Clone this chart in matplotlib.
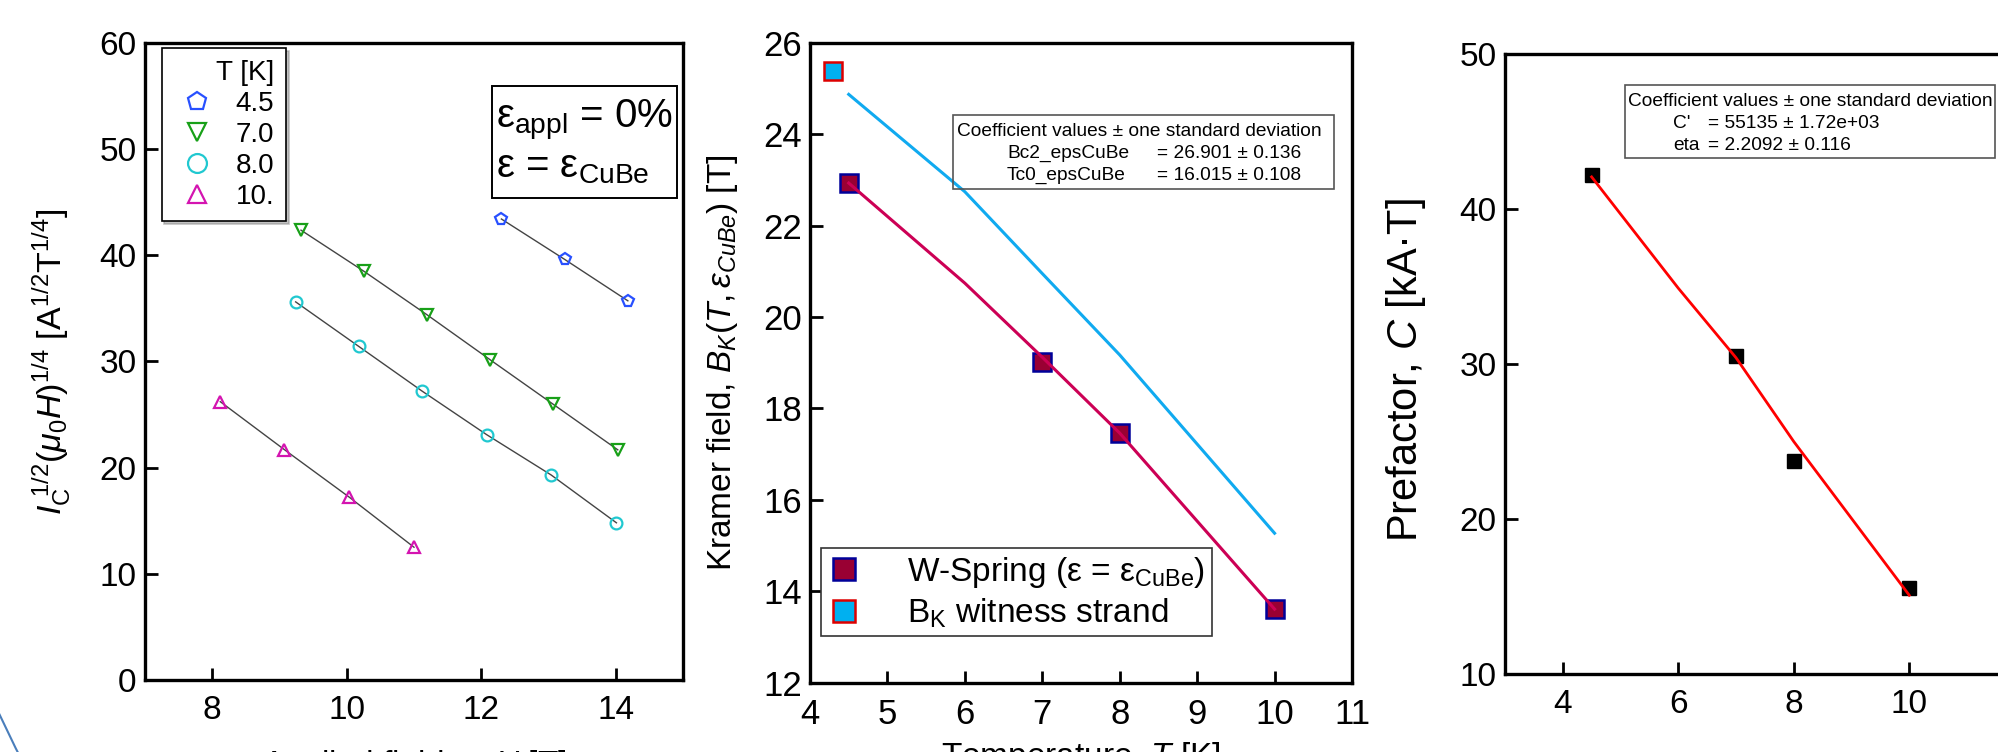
import matplotlib
matplotlib.use("Agg")
import matplotlib.pyplot as plt
from matplotlib.patches import Rectangle, Arc

plt.rcParams["font.family"] = ["Liberation Sans", "DejaVu Sans"]
plt.rcParams["mathtext.fontset"] = "custom"
plt.rcParams["mathtext.rm"] = "Liberation Sans"
plt.rcParams["mathtext.it"] = "Liberation Sans:italic"
plt.rcParams["mathtext.bf"] = "Liberation Sans:bold"

# --- panel 1: Kramer plots at each temperature ---
temp_labels = ["4.5", "7.0", "8.0", "10."]
field_45 = [12.30, 13.24, 14.18]
kramer_45 = [43.4, 39.6, 35.7]
field_70 = [9.32, 10.26, 11.19, 12.13, 13.07, 14.03]
kramer_70 = [42.35, 38.46, 34.4, 30.16, 25.96, 21.67]
field_80 = [9.24, 10.18, 11.12, 12.08, 13.04, 14.01]
kramer_80 = [35.6, 31.4, 27.2, 23.1, 19.3, 14.8]
field_100 = [8.12, 9.07, 10.04, 11.0]
kramer_100 = [26.2, 21.7, 17.2, 12.5]

# --- panel 2: Kramer field vs temperature ---
temp_pts = [4.5, 7, 8, 10]
bk_wspring = [22.93, 19.02, 17.46, 13.61]
temp_witness = [4.3]
bk_witness = [25.38]
temp_fit = [4.5, 6, 7, 8, 10]
bk_fit_wspring = [22.93, 20.74, 19.12, 17.46, 13.61]
bk_fit_witness = [24.87, 22.74, 20.95, 19.17, 15.27]

# --- panel 3: prefactor vs temperature ---
prefactor = [42.15, 30.47, 23.72, 15.52]
prefactor_fit = [42.05, 34.87, 30.38, 24.97, 15.05]

W, H = 1999, 752
fig = plt.figure(figsize=(W / 100, H / 100), dpi=100)


def px_axes(x0, y_top, x1, y_bot):
    return fig.add_axes([x0 / W, 1 - y_bot / H, (x1 - x0) / W, (y_bot - y_top) / H])


def style(ax, labelsize=24):
    for s in ax.spines.values():
        s.set_linewidth(2.4)
    ax.tick_params(direction="in", length=9, width=2, labelsize=labelsize)
    ax.tick_params(axis="y", pad=6)
    ax.tick_params(axis="x", pad=11)


def ftext(x, y, s, **kw):
    fig.text(x / W, 1 - y / H, s, **kw)


def fbox(x0, y0, x1, y1, ec="#555555", lw=1.2):
    fig.add_artist(Rectangle((x0 / W, 1 - y1 / H), (x1 - x0) / W, (y1 - y0) / H,
                             transform=fig.transFigure, fill=False, ec=ec, lw=lw))


COEF_FS = 13.8

# ---------------- panel 1 ----------------
ax1 = px_axes(145, 42.7, 683, 680)
style(ax1)
series = [
    (field_45, kramer_45, "p", "#2850ff"),
    (field_70, kramer_70, "v", "#18a018"),
    (field_80, kramer_80, "o", "#20c8d0"),
    (field_100, kramer_100, "^", "#d414b0"),
]
handles = []
for fx_, ky, mk, col in series:
    ax1.plot(fx_, ky, "-", color="#444444", lw=1.0, zorder=2)
    h, = ax1.plot(fx_, ky, ls="none", marker=mk, mfc="none", mec=col,
                  ms=8.5, mew=1.6, zorder=3)
    handles.append(h)
ax1.set_xlim(7, 15)
ax1.set_ylim(0, 60)
ax1.set_xticks([8, 10, 12, 14])
ax1.set_yticks(range(0, 61, 10))
leg1 = ax1.legend(handles, temp_labels, title="T [K]", loc="upper left",
                  bbox_to_anchor=(0.0309, 0.9917), borderaxespad=0,
                  fontsize=20, title_fontsize=20, markerscale=1.6,
                  alignment="right", fancybox=False, edgecolor="black",
                  handlelength=1.7, handletextpad=0.55, labelspacing=0.18,
                  borderpad=0.42, framealpha=1,
                  shadow={"ox": 2, "oy": -2, "color": "#888888"})
leg1.get_frame().set_linewidth(1.2)
ax1.set_ylabel(r"$I_{\mathrm{C}}^{\ 1/2}(\mu_0H)^{1/4}\ [\mathrm{A}^{1/2}\mathrm{T}^{1/4}]$",
               fontsize=24.5)
ax1.yaxis.set_label_coords(-0.174, 0.5)
ax1.yaxis.label.set_va("center")
ax1.set_xlabel(r"Applied field, $\mu_0H$ [T]", fontsize=24, va="top")
ax1.xaxis.set_label_coords(0.5, -0.1067)

fbox(492.5, 85.7, 676.6, 197.7, ec="black", lw=1.4)
ftext(496, 127, r"ε$_{\mathrm{appl}}$ = 0%", fontsize=29, va="baseline")
ftext(496, 177, r"ε = ε$_{\mathrm{CuBe}}$", fontsize=29, va="baseline")

# ---------------- panel 2 ----------------
ax2 = px_axes(810, 42.7, 1352, 682.7)
style(ax2, labelsize=25)
h_ws, = ax2.plot(temp_pts, bk_wspring, ls="none", marker="s", ms=13.5,
                 mfc="#990033", mec="#000099", mew=1.8, zorder=3)
h_wit, = ax2.plot(temp_witness, bk_witness, ls="none", marker="s", ms=13.5,
                  mfc="#00b0f0", mec="#dd0000", mew=1.8, zorder=3)
ax2.plot(temp_fit, bk_fit_wspring, "-", color="#cc0055", lw=2.2, zorder=4)
ax2.plot(temp_fit, bk_fit_witness, "-", color="#10aaf0", lw=2.2, zorder=4)
ax2.set_xlim(4, 11)
ax2.set_ylim(12, 26)
ax2.set_xticks(range(4, 12))
ax2.set_yticks(range(12, 27, 2))
leg2 = ax2.legend([h_ws, h_wit],
                  [r"W-Spring (ε = ε$_{\mathrm{CuBe}}$)", r"B$_{\mathrm{K}}$ witness strand"],
                  loc="upper left", bbox_to_anchor=(0.0196, 0.2105),
                  borderaxespad=0, fontsize=24, markerscale=1.2,
                  fancybox=False, edgecolor="#333333", handlelength=1.0,
                  handletextpad=1.4, labelspacing=0.2, borderpad=0.2,
                  framealpha=1)
leg2.get_frame().set_linewidth(1.2)
ax2.set_ylabel(r"Kramer field, $B_K(T,ε_{CuBe})$ [T]", fontsize=24)
ax2.yaxis.set_label_coords(-0.1616, 0.5)
ax2.yaxis.label.set_va("center")
ax2.set_xlabel(r"Temperature, $T$ [K]", fontsize=24, va="top")
ax2.xaxis.set_label_coords(0.5, -0.0895)

fbox(953, 115, 1334, 189)
ftext(957, 131, "Coefficient values ± one standard deviation", fontsize=COEF_FS, va="center")
ftext(1007, 153, "Bc2_epsCuBe", fontsize=COEF_FS, va="center")
ftext(1157, 153, "= 26.901 ± 0.136", fontsize=COEF_FS, va="center")
ftext(1007, 175, "Tc0_epsCuBe", fontsize=COEF_FS, va="center")
ftext(1157, 175, "= 16.015 ± 0.108", fontsize=COEF_FS, va="center")

# ---------------- panel 3 ----------------
ax3 = px_axes(1505, 53.7, 2024.75, 673.5)
style(ax3)
ax3.plot(temp_pts, prefactor, ls="none", marker="s", ms=9.5, color="black", zorder=3)
ax3.plot(temp_fit, prefactor_fit, "-", color="#ff0000", lw=2.0, zorder=4)
ax3.set_xlim(3, 12)
ax3.set_ylim(10, 50)
ax3.set_xticks([4, 6, 8, 10])
ax3.set_yticks(range(10, 51, 10))
ax3.set_ylabel(r"Prefactor, $C$ [kA·T]", fontsize=30)
ax3.yaxis.set_label_coords(-0.191, 0.49)
ax3.yaxis.label.set_va("center")
ax3.set_xlabel(r"Temperature, $T$ [K]", fontsize=24, va="top")
ax3.xaxis.set_label_coords(0.5, -0.1234)

fbox(1625, 85, 1995, 158)
ftext(1628, 101, "Coefficient values ± one standard deviation", fontsize=COEF_FS, va="center")
ftext(1673, 124, "C'", fontsize=COEF_FS, va="center")
ftext(1708, 124, "= 55135 ± 1.72e+03", fontsize=COEF_FS, va="center")
ftext(1673, 145, "eta", fontsize=COEF_FS, va="center")
ftext(1708, 145, "= 2.2092 ± 0.116", fontsize=COEF_FS, va="center")

# slide decoration arc at the lower-left corner
fig.add_artist(Arc((12.08, 6.0), 26.66, 26.66, theta1=200, theta2=215,
                   transform=fig.dpi_scale_trans, color="#4a7ebb", lw=1.5))

fig.savefig("out.png", dpi=100)
